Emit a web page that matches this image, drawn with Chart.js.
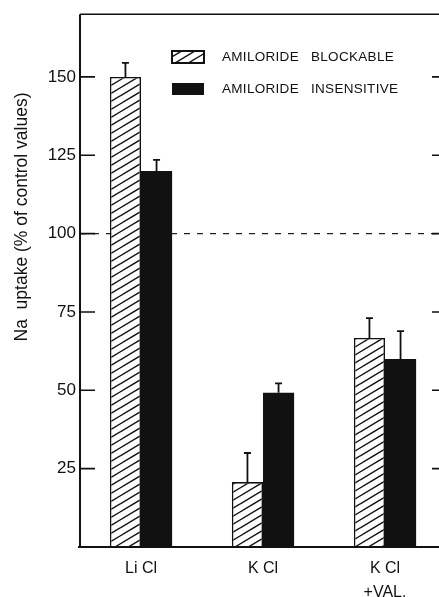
<!DOCTYPE html>
<html>
<head>
<meta charset="utf-8">
<script src="https://cdn.jsdelivr.net/npm/chart.js@4/dist/chart.umd.min.js"></script>
<style>
  html, body { margin: 0; padding: 0; background: #fff; overflow: hidden; width: 439px; height: 597px; }
  canvas { display: block; }
</style>
</head>
<body>
<canvas id="c" width="450" height="597"></canvas>
<script>
// Na uptake relative to control, split into amiloride-blockable and amiloride-insensitive parts
const categories = [['Li Cl'], ['K Cl'], ['K Cl', '+VAL.']];
const seriesNames = ['AMILORIDE BLOCKABLE', 'AMILORIDE INSENSITIVE'];
const blockable = [150, 20.7, 66.7];
const blockableErr = [4.5, 9.3, 6.3];
const insensitive = [120, 49.2, 60];
const insensitiveErr = [3.5, 3, 8.9];
const yTickValues = [25, 50, 75, 100, 125, 150];
const controlLevel = 100;
const yAxisTitle = 'Na  uptake (% of control values)';

const INK = '#111';
const FONT = '"Liberation Sans", Arial, sans-serif';

// diagonal "/" hatch used for the blockable bars
function makeHatch(ctx) {
  const t = document.createElement('canvas');
  t.width = 40; t.height = 24;
  const g = t.getContext('2d');
  g.fillStyle = '#fff';
  g.fillRect(0, 0, 40, 24);
  g.strokeStyle = INK;
  g.lineWidth = 1.5;
  for (let c = -24; c <= 56; c += 8) {
    g.beginPath();
    g.moveTo(-2, c + 1.2);
    g.lineTo(42, c - 25.2);
    g.stroke();
  }
  return ctx.createPattern(t, 'repeat');
}

const canvas = document.getElementById('c');
const ctx0 = canvas.getContext('2d');
const hatch = makeHatch(ctx0);

const decor = {
  id: 'decor',
  beforeDatasetsDraw(chart) {
    const { ctx, chartArea: a, scales: { y } } = chart;
    const yy = y.getPixelForValue(controlLevel);
    ctx.save();
    ctx.strokeStyle = '#222';
    ctx.lineWidth = 1.3;
    ctx.setLineDash([6, 7]);
    ctx.beginPath();
    ctx.moveTo(a.left, yy);
    ctx.lineTo(a.right, yy);
    ctx.stroke();
    ctx.restore();
  },
  afterDatasetsDraw(chart) {
    const { ctx, chartArea: a, scales: { y } } = chart;
    ctx.save();
    ctx.strokeStyle = INK;
    ctx.fillStyle = INK;

    // upper error whiskers
    const errs = [blockableErr, insensitiveErr];
    const vals = [blockable, insensitive];
    ctx.lineWidth = 1.8;
    errs.forEach((errArr, i) => {
      const meta = chart.getDatasetMeta(i);
      meta.data.forEach((bar, j) => {
        const yTop = y.getPixelForValue(vals[i][j] + errArr[j]);
        ctx.beginPath();
        ctx.moveTo(bar.x, bar.y);
        ctx.lineTo(bar.x, yTop);
        ctx.moveTo(bar.x - 3.5, yTop);
        ctx.lineTo(bar.x + 3.5, yTop);
        ctx.stroke();
      });
    });

    // frame
    ctx.lineWidth = 2;
    ctx.beginPath();
    ctx.moveTo(a.left, a.top);
    ctx.lineTo(a.left, a.bottom);
    ctx.moveTo(a.left - 2, a.bottom);
    ctx.lineTo(a.right, a.bottom);
    ctx.lineTo(a.right, a.top);
    ctx.stroke();
    ctx.lineWidth = 1.6;
    ctx.beginPath();
    ctx.moveTo(a.left, a.top);
    ctx.lineTo(a.right, a.top);
    ctx.stroke();

    // inward tick marks on both sides
    ctx.lineWidth = 1.6;
    yTickValues.forEach(v => {
      const py = y.getPixelForValue(v);
      ctx.beginPath();
      ctx.moveTo(a.left, py);
      ctx.lineTo(a.left + 15, py);
      ctx.moveTo(a.right - 14, py);
      ctx.lineTo(a.right, py);
      ctx.stroke();
    });

    // legend
    const lx = 172, lw = 32, lh = 12;
    const rows = [57, 89];
    ctx.fillStyle = hatch;
    ctx.fillRect(lx, rows[0] - lh / 2, lw, lh);
    ctx.lineWidth = 2;
    ctx.strokeRect(lx, rows[0] - lh / 2, lw, lh);
    ctx.fillStyle = INK;
    ctx.fillRect(lx, rows[1] - lh / 2, lw, lh);
    ctx.font = '13.5px ' + FONT;
    ctx.textBaseline = 'middle';
    ctx.textAlign = 'left';
    if ('letterSpacing' in ctx) ctx.letterSpacing = '0.3px';
    seriesNames.forEach((name, i) => {
      const k = name.indexOf(' ');
      ctx.fillText(name.slice(0, k), 222, rows[i]);
      ctx.fillText(name.slice(k + 1), 311, rows[i]);
    });
    if ('letterSpacing' in ctx) ctx.letterSpacing = '0px';

    // y axis title
    ctx.translate(22, 217);
    ctx.rotate(-Math.PI / 2);
    ctx.font = '17.5px ' + FONT;
    ctx.textAlign = 'center';
    ctx.fillText(yAxisTitle, 0, 0);
    ctx.restore();
  }
};

new Chart(canvas, {
  type: 'bar',
  data: {
    labels: categories,
    datasets: [
      { label: seriesNames[0], data: blockable, backgroundColor: hatch, borderColor: INK, borderWidth: 1.6 },
      { label: seriesNames[1], data: insensitive, backgroundColor: INK, borderWidth: 0 }
    ]
  },
  options: {
    responsive: false,
    animation: false,
    devicePixelRatio: 1,
    layout: { padding: { top: 14, right: 4, left: 0, bottom: 0 } },
    plugins: { legend: { display: false }, tooltip: { enabled: false } },
    datasets: { bar: { categoryPercentage: 0.51, barPercentage: 1 } },
    scales: {
      x: {
        grid: { display: false, drawTicks: false },
        border: { display: false },
        ticks: { font: { family: FONT, size: 16, lineHeight: 1.5 }, color: INK, padding: 10, maxRotation: 0, autoSkip: false },
        afterFit(s) { s.height = 50; }
      },
      y: {
        min: 0,
        max: 170,
        grid: { display: false, drawTicks: false },
        border: { display: false },
        ticks: { font: { family: FONT, size: 17 }, color: INK, padding: 4 },
        afterBuildTicks(s) { s.ticks = yTickValues.map(v => ({ value: v })); },
        afterFit(s) { s.width = 80; }
      }
    }
  },
  plugins: [decor]
});
</script>
</body>
</html>
